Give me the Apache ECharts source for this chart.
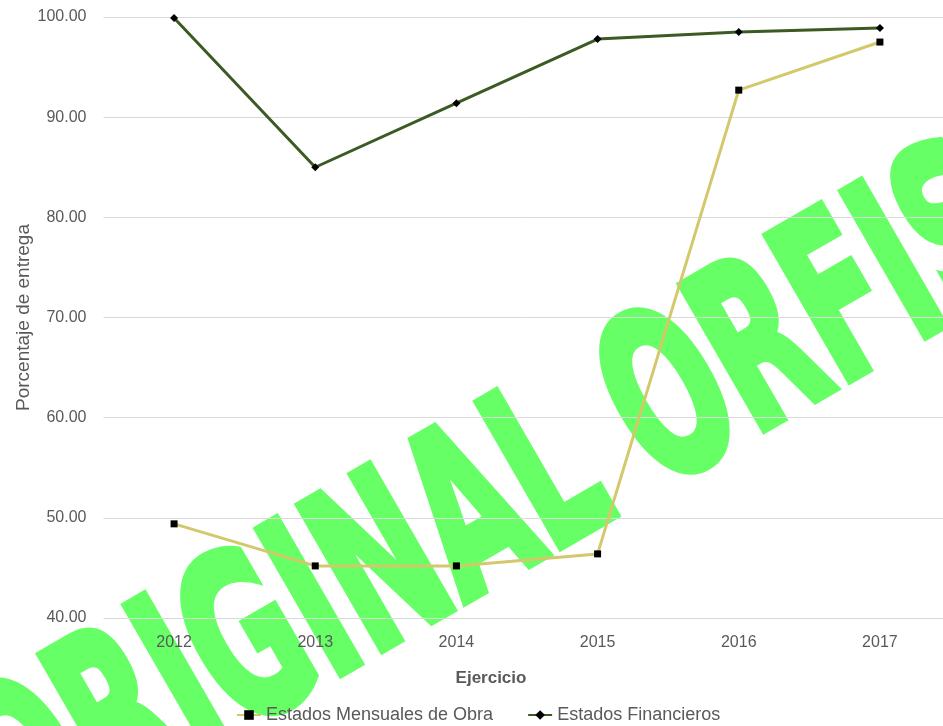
<!DOCTYPE html>
<html>
<head>
<meta charset="utf-8">
<script src="https://cdn.jsdelivr.net/npm/echarts@6/dist/echarts.min.js"></script>
<style>
html,body{margin:0;padding:0;background:#fff;}
#chart{width:943px;height:726px;}
</style>
</head>
<body>
<div id="chart"></div>
<script>
const categories = ['2012', '2013', '2014', '2015', '2016', '2017'];
const mensuales = [49.4, 45.2, 45.2, 46.4, 92.7, 97.5];
const financieros = [99.9, 85.0, 91.4, 97.8, 98.5, 98.9];
const yMin = 40, yMax = 100, yStep = 10;
const seriesNames = ['Estados Mensuales de Obra', 'Estados Financieros'];
const xName = 'Ejercicio';
const yName = 'Porcentaje de entrega';
const watermarkText = 'ORIGINAL ORFIS';

const FONT = "'Liberation Sans', Arial, sans-serif";
const GREY = '#595959';

const chart = echarts.init(document.getElementById('chart'), null, {renderer: 'canvas'});
chart.setOption({
  backgroundColor: '#ffffff',
  animation: false,
  graphic: [{
    type: 'text',
    z: -10,
    x: 497,
    y: 515,
    rotation: Math.PI / 6,
    scaleX: 1,
    scaleY: 1.78,
    silent: true,
    style: {
      text: watermarkText,
      fontFamily: 'DejaVu Sans',
      fontWeight: 'bold',
      fontSize: 128,
      fill: '#66ff66',
      stroke: '#66ff66',
      lineWidth: 5,
      textAlign: 'center',
      textVerticalAlign: 'middle',
      align: 'center',
      verticalAlign: 'middle'
    }
  }],
  grid: {left: 103.5, right: -7.5, top: 17, bottom: 108, containLabel: false, outerBoundsMode: 'none'},
  legend: {
    left: 231,
    top: 701,
    itemWidth: 24,
    itemHeight: 12,
    itemGap: 34,
    textStyle: {color: GREY, fontFamily: FONT, fontSize: 18},
    data: seriesNames
  },
  xAxis: {
    type: 'category',
    data: categories,
    boundaryGap: true,
    name: xName,
    nameLocation: 'middle',
    nameGap: 52,
    nameMoveOverlap: false,
    nameTextStyle: {color: GREY, fontFamily: FONT, fontSize: 17, fontWeight: 'bold', padding: [0, 72, 0, 0]},
    axisLine: {show: false},
    axisTick: {show: false},
    axisLabel: {color: GREY, fontFamily: FONT, fontSize: 16, margin: 17}
  },
  yAxis: {
    type: 'value',
    min: yMin,
    max: yMax,
    interval: yStep,
    name: yName,
    nameLocation: 'middle',
    nameGap: 70,
    nameMoveOverlap: false,
    nameTextStyle: {color: GREY, fontFamily: FONT, fontSize: 19},
    axisLine: {show: false},
    axisTick: {show: false},
    axisLabel: {color: GREY, fontFamily: FONT, fontSize: 16, margin: 17, formatter: v => v.toFixed(2)},
    splitLine: {lineStyle: {color: '#d9d9d9', width: 1}}
  },
  series: [
    {
      name: seriesNames[0],
      type: 'line',
      data: mensuales,
      smooth: false,
      symbol: 'rect',
      symbolSize: 7,
      lineStyle: {color: '#d3c86c', width: 3},
      itemStyle: {color: '#000000', borderWidth: 0},
      z: 3
    },
    {
      name: seriesNames[1],
      type: 'line',
      data: financieros,
      smooth: false,
      symbol: 'diamond',
      symbolSize: 8,
      lineStyle: {color: '#3b5a24', width: 3},
      itemStyle: {color: '#000000', borderWidth: 0},
      z: 4
    }
  ]
});
</script>
</body>
</html>
